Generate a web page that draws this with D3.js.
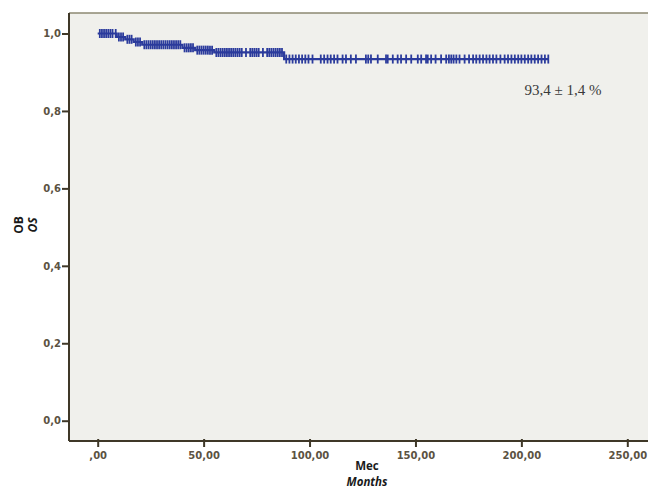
<!DOCTYPE html>
<html><head><meta charset="utf-8">
<script src="https://cdn.jsdelivr.net/npm/d3@7"></script>
<style>body{margin:0;background:#fff}svg{display:block}</style>
</head><body>
<script>
// Kaplan-Meier steps: [time, survival after event]
const eventTimes = [0, 9, 13, 17, 21, 40, 46, 55, 88];
const survival   = [1.0, 0.991, 0.985, 0.978, 0.971, 0.963, 0.957, 0.951, 0.934];
const endTime = 212.7;
// censored observations (months)
const censorTimes = [1,2,3,4,5,6,7,8.5,10,11,12,14,15,16,18,19,20,22,23,24,25,26,27,28,29,30,31,32,33,34,35,36,37,38,39,
  41,42,43,44,45,47,48,49,50,51,52,53,54,56,57,58,59,60,61,62,63,64,65,66,67,68,70,72,73,74,75,76,78,80,81,82,83,84,85,86,87,
  89,90.5,92,93.5,95,96.5,98,99.5,101.4,105.3,106.9,108.5,110,111.6,113.2,115.6,117.2,119.5,121.9,126.6,127.7,129,132.2,
  136.1,136.9,139.3,141.6,143.2,145.6,148,151.1,152.7,155,155.8,157.4,159.5,162.1,164.5,165.8,166.9,168,169.3,170.8,173.2,
  175.3,177.2,178.7,180.3,181.9,183.5,185,186.6,188.2,190.1,192.1,193.7,195.3,196.9,198.5,200,201.6,203.2,204.7,206.3,
  207.9,209.5,211.1,212.7];
const xTicks = [0, 50, 100, 150, 200, 250];
const xTickLabels = [",00", "50,00", "100,00", "150,00", "200,00", "250,00"];
const yTicks = [0, 0.2, 0.4, 0.6, 0.8, 1.0];
const yTickLabels = ["0,0", "0,2", "0,4", "0,6", "0,8", "1,0"];
const annotation = "93,4 ± 1,4 %";

(function () {
const W = 648, H = 490;
const svg = d3.select("body").append("svg").attr("width", W).attr("height", H);
const pL = 69, pT = 13, pR = 652, pB = 441;
const x = d3.scaleLinear().domain([0, 250]).range([97.7, 627.3]);
const y = d3.scaleLinear().domain([0, 1]).range([420.7, 33.5]);

svg.append("rect").attr("x", pL).attr("y", pT).attr("width", pR - pL).attr("height", pB - pT)
  .attr("fill", "#f0f0ec");
svg.append("line").attr("x1", pL).attr("x2", pR).attr("y1", pT).attr("y2", pT)
  .attr("stroke", "#8c8872").attr("stroke-width", 1.5);

function survAt(t) {
  let s = 1;
  for (let i = 0; i < eventTimes.length; i++) if (eventTimes[i] <= t) s = survival[i];
  return s;
}
const blue = "#2b3b9c";
const pts = eventTimes.map((t, i) => [t, survival[i]]).concat([[endTime, survival[survival.length - 1]]]);
const line = d3.line().x(d => x(d[0])).y(d => y(d[1])).curve(d3.curveStepAfter);
svg.append("path").attr("d", line(pts)).attr("fill", "none").attr("stroke", blue).attr("stroke-width", 2.2);
svg.append("g").selectAll("line").data(censorTimes).join("line")
  .attr("x1", d => x(d)).attr("x2", d => x(d))
  .attr("y1", d => y(survAt(d)) - 4.5).attr("y2", d => y(survAt(d)) + 4.5)
  .attr("stroke", blue).attr("stroke-width", 1.8);

const axisColor = "#3f3828";
const tickFont = "Verdana, 'DejaVu Sans', sans-serif";
const xa = svg.append("g").attr("transform", `translate(0,${pB})`)
  .call(d3.axisBottom(x).tickValues(xTicks).tickFormat((d, i) => xTickLabels[i]).tickSizeOuter(0).tickSize(6));
xa.select(".domain").attr("d", `M${pL},0H${pR}`).attr("stroke", axisColor).attr("stroke-width", 2);
xa.selectAll(".tick line").attr("stroke", axisColor).attr("stroke-width", 2).attr("y1", -2).attr("y2", 6);
xa.selectAll(".tick text").attr("fill", "#5b5242").attr("font-family", tickFont).attr("font-size", 10)
  .attr("font-weight", "bold").attr("dy", 0).attr("y", 18);
const ya = svg.append("g").attr("transform", `translate(${pL},0)`)
  .call(d3.axisLeft(y).tickValues(yTicks).tickFormat((d, i) => yTickLabels[i]).tickSizeOuter(0).tickSize(7));
ya.select(".domain").attr("d", `M0,${pT}V${pB}`).attr("stroke", axisColor).attr("stroke-width", 2);
ya.selectAll(".tick line").attr("stroke", axisColor).attr("stroke-width", 2);
ya.selectAll(".tick text").attr("fill", "#5b5242").attr("font-family", tickFont).attr("font-size", 10)
  .attr("font-weight", "bold").attr("x", -8);

const titleFont = "'Open Sans', 'DejaVu Sans', sans-serif";
svg.append("text").attr("transform", "translate(23,225) rotate(-90)").attr("text-anchor", "middle")
  .attr("font-family", titleFont).attr("font-weight", "bold").attr("font-size", 12).attr("fill", "#1a1a1a").text("OB");
svg.append("text").attr("transform", "translate(37,225) rotate(-90)").attr("text-anchor", "middle")
  .attr("font-family", titleFont).attr("font-weight", "bold").attr("font-style", "italic").attr("font-size", 12).attr("fill", "#1a1a1a").text("OS");
svg.append("text").attr("x", 367).attr("y", 470).attr("text-anchor", "middle")
  .attr("font-family", titleFont).attr("font-weight", "bold").attr("font-size", 11.5).attr("fill", "#1a1a1a").text("Mec");
svg.append("text").attr("x", 367).attr("y", 486).attr("text-anchor", "middle")
  .attr("font-family", titleFont).attr("font-weight", "bold").attr("font-style", "italic").attr("font-size", 11.5).attr("fill", "#1a1a1a").text("Months");

svg.append("text").attr("x", 563).attr("y", 95).attr("text-anchor", "middle")
  .attr("font-family", "'Liberation Serif', 'Times New Roman', serif").attr("font-size", 15).attr("fill", "#3a3a3a")
  .text(annotation);
})();
</script>
</body></html>
